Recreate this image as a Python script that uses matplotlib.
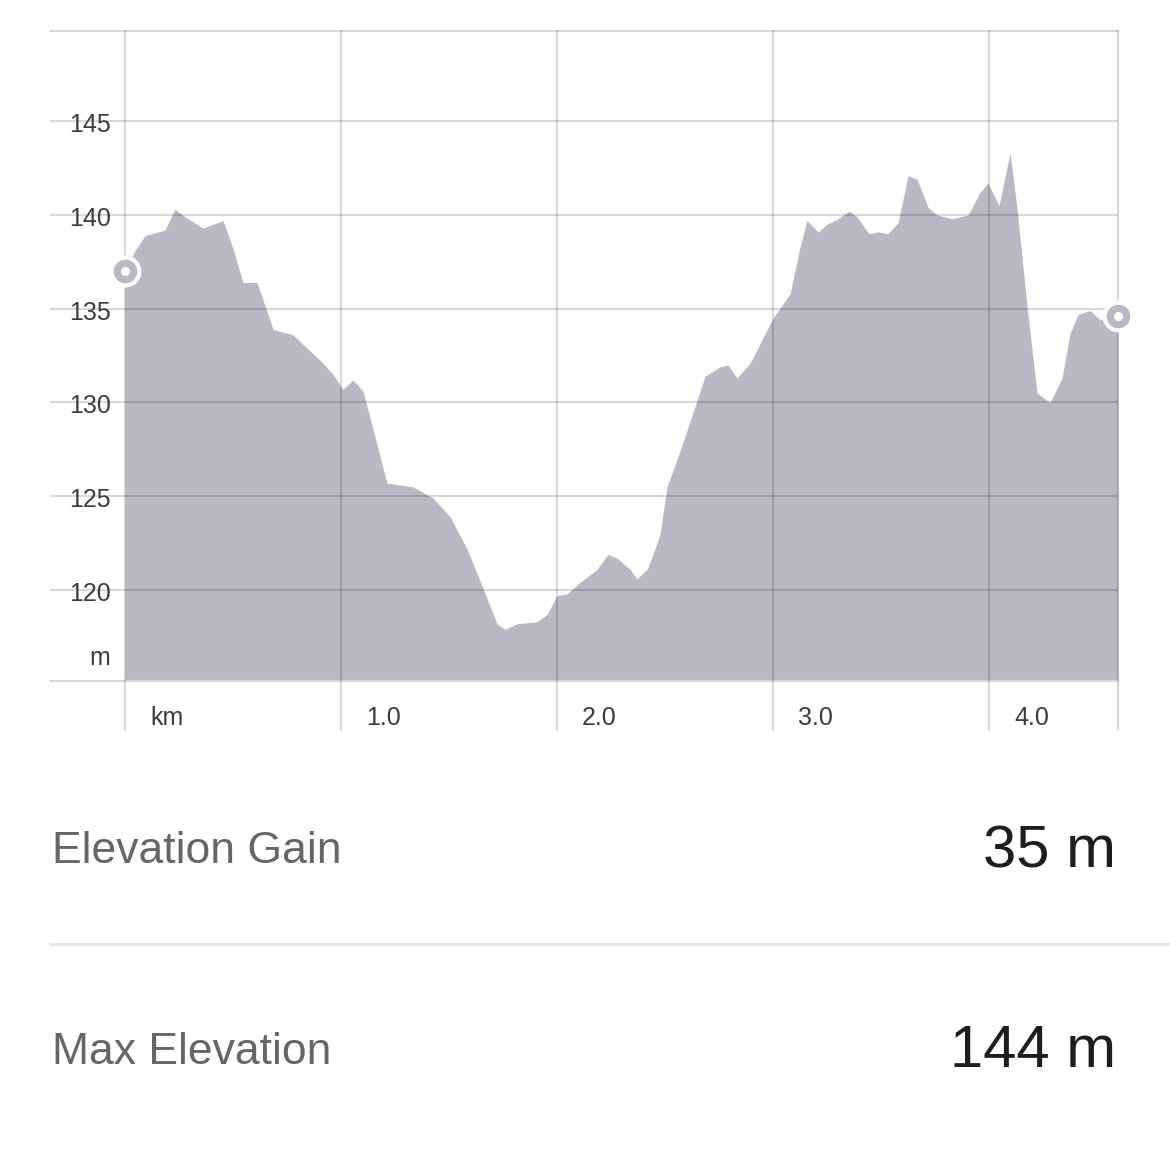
import matplotlib
matplotlib.use("Agg")
import matplotlib.pyplot as plt
import matplotlib.transforms as mtransforms
import numpy as np

plt.rcParams['font.family'] = ['Liberation Sans', 'DejaVu Sans']

# elevation profile (distance in km, elevation in m)
distance_km = [0.000, 0.046, 0.093, 0.185, 0.231, 0.278, 0.361, 0.454, 0.500, 0.546,
               0.611, 0.671, 0.685, 0.778, 0.917, 0.963, 1.009, 1.056, 1.102, 1.213,
               1.273, 1.333, 1.426, 1.505, 1.583, 1.657, 1.722, 1.759, 1.815, 1.907,
               1.954, 2.000, 2.046, 2.106, 2.185, 2.236, 2.278, 2.338, 2.370, 2.417,
               2.444, 2.477, 2.509, 2.569, 2.648, 2.685, 2.755, 2.792, 2.833, 2.894,
               3.000, 3.079, 3.125, 3.157, 3.208, 3.250, 3.301, 3.352, 3.389, 3.444,
               3.486, 3.532, 3.579, 3.625, 3.667, 3.718, 3.759, 3.829, 3.903, 3.958,
               3.995, 4.046, 4.097, 4.130, 4.176, 4.222, 4.282, 4.338, 4.375, 4.412,
               4.468, 4.514, 4.597]
elevation_m = [137.0, 138.1, 138.9, 139.2, 140.3, 139.9, 139.3, 139.7, 138.2, 136.4,
               136.4, 134.4, 133.9, 133.6, 132.1, 131.5, 130.7, 131.2, 130.6, 125.7,
               125.6, 125.5, 124.9, 123.9, 122.2, 120.1, 118.2, 117.9, 118.2, 118.3,
               118.7, 119.7, 119.8, 120.4, 121.1, 121.9, 121.7, 121.1, 120.6, 121.1,
               121.9, 123.0, 125.5, 127.4, 130.1, 131.4, 131.9, 132.0, 131.3, 132.1,
               134.5, 135.8, 138.3, 139.7, 139.1, 139.5, 139.8, 140.2, 139.9, 139.0,
               139.1, 139.0, 139.6, 142.1, 141.9, 140.4, 140.0, 139.8, 140.0, 141.2,
               141.7, 140.5, 143.3, 140.3, 135.1, 130.5, 130.0, 131.3, 133.7, 134.7,
               134.9, 134.4, 134.6]

x_ticks = [0, 1, 2, 3, 4]
x_labels = ['km', '1.0', '2.0', '3.0', '4.0']
y_ticks = [120, 125, 130, 135, 140, 145]
y_labels = ['120', '125', '130', '135', '140', '145']

stats_names = ['Elevation Gain', 'Max Elevation']
stats_values = ['35 m', '144 m']

W, H = 1170, 1149
fig = plt.figure(figsize=(W / 100, H / 100), dpi=100)
fig.patch.set_facecolor('white')

# axes from px x 50..1118, y 31..681
ax = fig.add_axes([50 / W, 1 - 681 / H, (1118 - 50) / W, 650 / H])
ax.set_xlim(-75 / 216, distance_km[-1])
ax.set_ylim(115.147, 149.81)
ax.set_facecolor('none')
for s in ['left', 'right']:
    ax.spines[s].set_visible(False)
for s in ['top', 'bottom']:
    ax.spines[s].set_color('#d9d9d9')
    ax.spines[s].set_linewidth(1.5)
ax.set_xticks([])
ax.set_yticks([])

fill_col = '#b9b9c6'
ax.fill_between(distance_km, elevation_m, 115.147, color=fill_col, lw=0, zorder=1)

grid_kw = dict(color='black', alpha=0.15, lw=1.5, zorder=3)
for t in y_ticks:
    ax.axhline(t, **grid_kw)
for t in x_ticks + [distance_km[-1]]:
    ax.axvline(t, ymin=-49 / 650, ymax=1, clip_on=False, **grid_kw)

# start / end markers
ends_x = [distance_km[0], distance_km[-1]]
ends_y = [elevation_m[0], elevation_m[-1]]
ax.plot(ends_x, ends_y, 'o', ms=22, color='white', zorder=5, clip_on=False)
ax.plot(ends_x, ends_y, 'o', ms=16, color=fill_col, zorder=6, clip_on=False)
ax.plot(ends_x, ends_y, 'o', ms=5.5, color='white', zorder=7, clip_on=False)

lab_col = '#3c3c3c'
ytr = mtransforms.offset_copy(ax.transData, fig, x=-14, y=-11, units='dots')
for t, lab in zip(y_ticks, y_labels):
    ax.text(0, t, lab, transform=ytr, ha='right', va='baseline',
            fontsize=18, color=lab_col)
mtr = mtransforms.offset_copy(ax.get_xaxis_transform(), fig, x=-15, y=16, units='dots')
ax.text(0, 0, 'm', transform=mtr, ha='right', va='baseline', fontsize=18, color=lab_col)

xtr = mtransforms.offset_copy(ax.get_xaxis_transform(), fig, x=25, y=-44, units='dots')
for t, lab in zip(x_ticks, x_labels):
    ax.text(t, 0, lab, transform=xtr, ha='left', va='baseline',
            fontsize=18, color=lab_col)

# summary rows
name_base = [863, 1064]
value_base = [867, 1067]
for name, val, yb, yv in zip(stats_names, stats_values, name_base, value_base):
    fig.text(52 / W, 1 - yb / H, name, ha='left', va='baseline',
             fontsize=32, color='#666666')
    fig.text(1116 / W, 1 - yv / H, val, ha='right', va='baseline',
             fontsize=43, color='#1e1e1e')

fig.add_artist(plt.Line2D([50 / W, 1], [1 - 944 / H, 1 - 944 / H],
                          color='#e6e6e6', lw=2, transform=fig.transFigure))

fig.savefig('out.png', dpi=100)
